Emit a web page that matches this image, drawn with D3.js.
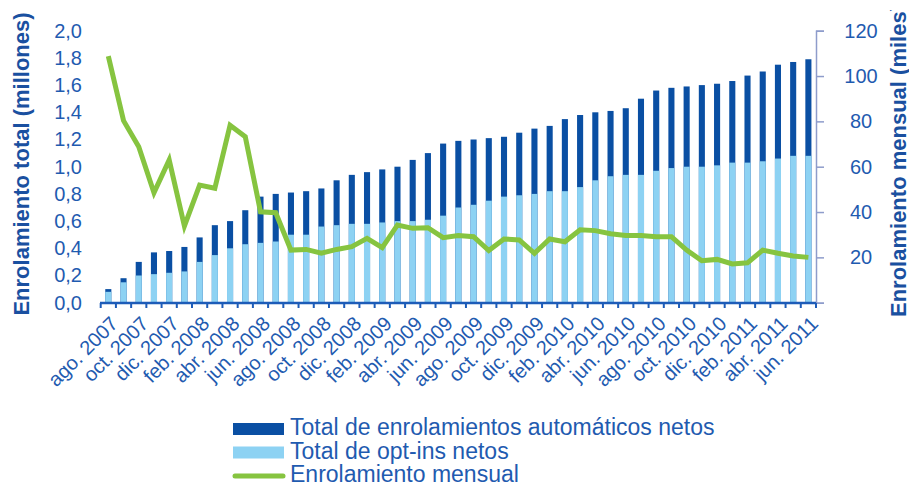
<!DOCTYPE html>
<html>
<head>
<meta charset="utf-8">
<script src="https://cdn.jsdelivr.net/npm/d3@7"></script>
<style>
  body { margin: 0; background: #fff; }
  text { font-family: "Liberation Sans", Arial, sans-serif; }
</style>
</head>
<body>
<div id="chart"></div>
<script>
// months ago. 2007 .. jun. 2011
var months = ["ago. 2007","sep. 2007","oct. 2007","nov. 2007","dic. 2007",
  "ene. 2008","feb. 2008","mar. 2008","abr. 2008","may. 2008","jun. 2008","jul. 2008","ago. 2008","sep. 2008","oct. 2008","nov. 2008","dic. 2008",
  "ene. 2009","feb. 2009","mar. 2009","abr. 2009","may. 2009","jun. 2009","jul. 2009","ago. 2009","sep. 2009","oct. 2009","nov. 2009","dic. 2009",
  "ene. 2010","feb. 2010","mar. 2010","abr. 2010","may. 2010","jun. 2010","jul. 2010","ago. 2010","sep. 2010","oct. 2010","nov. 2010","dic. 2010",
  "ene. 2011","feb. 2011","mar. 2011","abr. 2011","may. 2011","jun. 2011"];

// total (millones) = opt-ins + automaticos
var optIns = [0.08,0.15,0.20,0.21,0.22,0.23,0.30,0.35,0.40,0.43,0.44,0.45,0.50,0.50,0.56,0.57,
  0.58,0.58,0.59,0.60,0.60,0.61,0.64,0.70,0.72,0.75,0.78,0.79,0.80,0.82,0.82,0.85,
  0.90,0.93,0.94,0.94,0.97,0.99,1.00,1.00,1.01,1.03,1.03,1.04,1.06,1.08,1.08];
var totals = [0.10,0.18,0.30,0.37,0.38,0.41,0.48,0.57,0.60,0.68,0.78,0.80,0.81,0.82,0.84,0.90,
  0.94,0.96,0.98,1.00,1.05,1.10,1.17,1.19,1.20,1.21,1.22,1.25,1.28,1.30,1.35,1.38,
  1.40,1.41,1.43,1.50,1.56,1.58,1.59,1.60,1.61,1.63,1.67,1.70,1.75,1.77,1.79];
// enrolamiento mensual (miles)
var mensual = [108.8,80.3,68.8,48.5,63.0,33.8,51.9,50.5,78.3,73.2,40.1,39.7,23.2,23.5,21.8,23.5,
  24.7,28.4,24.3,34.3,32.8,33.1,28.7,29.6,29.1,23.0,28.1,27.7,21.8,28.1,26.9,32.2,
  31.8,30.4,29.7,29.6,29.1,29.1,23.2,18.5,19.1,17.1,17.6,23.2,21.8,20.6,20.0];

var leftTicks = [0,0.2,0.4,0.6,0.8,1.0,1.2,1.4,1.6,1.8,2.0];
var rightTicks = [0,20,40,60,80,100,120];

var W = 909, H = 486;
var dark = "#0a4fa3", light = "#8dd2f3", green = "#86c440", txt = "#1f5bb0";

var svg = d3.select("#chart").append("svg").attr("width", W).attr("height", H);

// the source cuts the right title at the top
svg.append("defs").append("clipPath").attr("id", "topclip")
  .append("rect").attr("x", 0).attr("y", 10).attr("width", W).attr("height", H);

var x = d3.scaleBand().domain(months).range([100.7, 816]).paddingInner(0.6).paddingOuter(0.3);
var yL = d3.scaleLinear().domain([0, 2]).range([302.7, 30.7]);
var yR = d3.scaleLinear().domain([0, 120]).range([302.7, 30.7]);

var es = d3.formatLocale({decimal: ",", thousands: ".", grouping: [3], currency: ["", ""]});

// bars
var bars = svg.append("g");
bars.selectAll(".tot").data(months).enter().append("rect")
  .attr("x", d => x(d)).attr("width", x.bandwidth())
  .attr("y", (d, i) => yL(totals[i]))
  .attr("height", (d, i) => yL(0) - yL(totals[i]))
  .style("fill", dark);
bars.selectAll(".opt").data(months).enter().append("rect")
  .attr("x", d => x(d)).attr("width", x.bandwidth())
  .attr("y", (d, i) => yL(optIns[i]))
  .attr("height", (d, i) => yL(0) - yL(optIns[i]))
  .style("fill", light);

// left axis (labels only)
var gl = svg.append("g").attr("transform", "translate(100,0)")
  .call(d3.axisLeft(yL).tickValues(leftTicks).tickSize(0).tickPadding(18).tickFormat(es.format(".1f")));
gl.select(".domain").remove();
gl.selectAll("text").style("font-size", "20px").style("fill", txt).style("font-family", "Liberation Sans, Arial");

// right axis
var gr = svg.append("g").attr("transform", "translate(816,0)")
  .call(d3.axisRight(yR).tickValues(rightTicks).tickSizeOuter(0).tickSize(8).tickPadding(37)
    .tickFormat(d => d == 0 ? "" : d));
gr.select(".domain").style("stroke", "#8e9ccb").style("stroke-width", 1.5);
gr.selectAll("line").style("stroke", "#8e9ccb").style("stroke-width", 1.5);
gr.selectAll("text").style("font-size", "20px").style("fill", txt).attr("text-anchor", "middle")
  .style("font-family", "Liberation Sans, Arial");

// x axis
var gx = svg.append("g").attr("transform", "translate(0,303)");
gx.append("line").attr("x1", 100).attr("x2", 816).style("stroke", "#1d5cb8").style("stroke-width", 2.5);
gx.selectAll(".tk").data(months.concat(["end"])).enter().append("line")
  .attr("x1", (d, i) => 100.7 + i * x.step()).attr("x2", (d, i) => 100.7 + i * x.step())
  .attr("y1", 0).attr("y2", 5).style("stroke", "#1d5cb8").style("stroke-width", 2);
gx.selectAll(".lab").data(months.filter((d, i) => i % 2 == 0)).enter().append("text")
  .attr("transform", d => "translate(" + (x(d) + x.bandwidth() / 2 + 1) + ",12) rotate(-45)")
  .attr("text-anchor", "end")
  .attr("dy", "0.7em")
  .style("font-size", "20px").style("fill", txt)
  .text(d => d);

// green line
var line = d3.line()
  .x((d, i) => x(months[i]) + x.bandwidth() / 2)
  .y(d => yR(d));
svg.append("path").datum(mensual)
  .attr("d", line)
  .style("fill", "none").style("stroke", green).style("stroke-width", 5)
  .style("stroke-linejoin", "miter").style("stroke-linecap", "butt");

// axis titles
svg.append("text")
  .attr("transform", "translate(29,164) rotate(-90)")
  .attr("text-anchor", "middle")
  .style("font-size", "22px").style("font-weight", "bold").style("fill", "#1a50a0")
  .text("Enrolamiento total (millones)");
svg.append("g").attr("clip-path", "url(#topclip)")
  .append("text")
  .attr("transform", "translate(906,317) rotate(-90)")
  .attr("text-anchor", "start")
  .style("font-size", "22px").style("font-weight", "bold").style("fill", "#1a50a0")
  .text("Enrolamiento mensual (miles)");

// legend
var legendItems = [
  {name: "Total de enrolamientos automáticos netos", color: dark, type: "rect"},
  {name: "Total de opt-ins netos", color: light, type: "rect"},
  {name: "Enrolamiento mensual", color: green, type: "line"}
];
var lg = svg.append("g").attr("transform", "translate(233,0)");
legendItems.forEach((it, i) => {
  var my = 429 + i * 23.5;
  if (it.type == "rect") {
    lg.append("rect").attr("x", 0).attr("y", my - 6).attr("width", 51).attr("height", 12).style("fill", it.color);
  } else {
    lg.append("line").attr("x1", 2).attr("x2", 50).attr("y1", my).attr("y2", my)
      .style("stroke", it.color).style("stroke-width", 5).style("stroke-linecap", "round");
  }
  lg.append("text").attr("x", 57).attr("y", 435 + i * 23.5)
    .style("font-size", "23px").style("fill", txt).text(it.name);
});
</script>
</body>
</html>
